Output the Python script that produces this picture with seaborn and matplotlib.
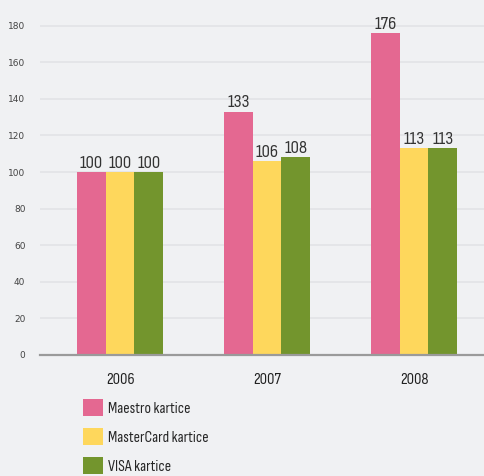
import pandas as pd
import seaborn as sns
import matplotlib.pyplot as plt
from matplotlib.patches import Patch

# Index values (2006 = 100)
years = ['2006', '2007', '2008']
maestro = [100, 133, 176]
mastercard = [100, 106, 113]
visa = [100, 108, 113]
series = ['Maestro kartice', 'MasterCard kartice', 'VISA kartice']
colors = ['#e46891', '#fed75c', '#73952d']
yticks = [0, 20, 40, 60, 80, 100, 120, 140, 160, 180]

rows = []
for name, vals in zip(series, [maestro, mastercard, visa]):
    for y, v in zip(years, vals):
        rows.append({'year': y, 'card': name, 'value': v})
df = pd.DataFrame(rows)

sns.set_style('white')
narrow = ['Sofia Sans Condensed', 'Archivo Narrow', 'DejaVu Sans']
bg = '#f0f1f3'

fig = plt.figure(figsize=(4.85, 4.76), dpi=100, facecolor=bg)
ax = fig.add_axes([40 / 485, 121 / 476, 445 / 485, 355 / 476])
ax.set_facecolor(bg)

sns.barplot(data=df, x='year', y='value', hue='card', palette=colors,
            width=0.585, gap=0, saturation=1, linewidth=0, ax=ax, legend=False)

for cont in ax.containers:
    ax.bar_label(cont, padding=1, fontsize=13.5, color='#333333', family=narrow)

ax.set_xlim(-0.545, 2.483)
ax.set_ylim(0, 194)
ax.set_yticks(yticks)
ax.yaxis.grid(True, color='#e2e3e6', linewidth=1.2)
ax.set_axisbelow(True)
for s in ['top', 'right', 'left']:
    ax.spines[s].set_visible(False)
ax.spines['bottom'].set_color('#9a9a9a')
ax.spines['bottom'].set_linewidth(1.6)
ax.tick_params(axis='y', length=4.5, width=1.4, color='#222222', pad=6,
               labelsize=6.5, labelcolor='#444444')
ax.tick_params(axis='x', length=0, pad=13, labelsize=11.8, labelcolor='#222222')
for lab in ax.get_xticklabels():
    lab.set_family(narrow)
ax.set_xlabel('')
ax.set_ylabel('')

handles = [Patch(facecolor=c, edgecolor='none') for c in colors]
fig.legend(handles, series, loc='upper left', bbox_to_anchor=(83 / 485, 77 / 476),
           frameon=False, prop={'family': narrow, 'size': 11.3},
           handlelength=1.27, handleheight=1.27, labelspacing=0.78,
           handletextpad=0.3, borderpad=0, borderaxespad=0)

fig.savefig('out.png', dpi=100, facecolor=bg)
